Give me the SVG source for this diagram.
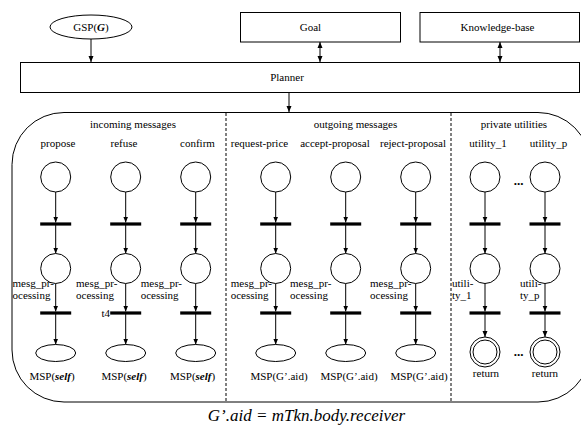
<svg xmlns="http://www.w3.org/2000/svg" width="581" height="425" viewBox="0 0 581 425">
<style>
text{font-family:"Liberation Serif","Times New Roman",serif;font-size:11px;fill:#000}
.c{text-anchor:middle}
.e{text-anchor:end}
.bi{font-weight:bold;font-style:italic}
.dots{font-weight:bold;font-size:13px;text-anchor:middle}
.cap{font-style:italic;font-size:17px;text-anchor:middle}
.box{fill:#fff;stroke:#000;stroke-width:1}
.pl{fill:#fff;stroke:#000;stroke-width:1}
.bar{stroke:#000;stroke-width:3.2}
.ln{stroke:#000;stroke-width:1;fill:none}
.dv{stroke:#000;stroke-width:1;stroke-dasharray:3,2}
</style>
<defs>
<marker id="ah" viewBox="0 0 6 6" refX="6" refY="3" markerWidth="6" markerHeight="6" markerUnits="userSpaceOnUse" orient="auto-start-reverse">
<path d="M0,0.5 L6,3 L0,5.5 z" fill="#000"/>
</marker>
</defs>
<rect width="581" height="425" fill="#fff"/>

<g id="container">
<rect x="12" y="112.5" width="578" height="289.5" rx="52" ry="52" fill="none" stroke="#000" stroke-width="1"/>
<line class="dv" x1="226" y1="113" x2="226" y2="402"/>
<line class="dv" x1="451" y1="113" x2="451" y2="402"/>
<text class="c" x="133" y="128">incoming messages</text>
<text class="c" x="355.5" y="128">outgoing messages</text>
<text class="c" x="514" y="128">private utilities</text>
</g>

<g id="gsp">
<ellipse cx="91" cy="27" rx="41" ry="12" class="box"/>
<text class="c" x="91" y="31">GSP(<tspan class="bi">G</tspan>)</text>
</g>
<g id="goal">
<rect x="240.5" y="12.5" width="160" height="29.5" class="box"/>
<text class="c" x="310.5" y="30.5">Goal</text>
</g>
<g id="kb">
<rect x="420" y="12.5" width="159.5" height="29.5" class="box"/>
<text class="c" x="497.5" y="30.5">Knowledge-base</text>
</g>
<g id="planner">
<rect x="20.5" y="62.5" width="559" height="30" class="box"/>
<text class="c" x="287" y="81">Planner</text>
</g>

<g id="connectors">
<line class="ln" x1="91" y1="39" x2="91" y2="62" marker-end="url(#ah)"/>
<line class="ln" x1="320" y1="42" x2="320" y2="62" marker-start="url(#ah)" marker-end="url(#ah)"/>
<line class="ln" x1="500" y1="42" x2="500" y2="62" marker-start="url(#ah)" marker-end="url(#ah)"/>
<line class="ln" x1="289" y1="92.5" x2="289" y2="112" marker-end="url(#ah)"/>
<line class="ln" x1="55.7" y1="192" x2="55.7" y2="222.5" marker-end="url(#ah)"/>
<line class="ln" x1="55.7" y1="224" x2="55.7" y2="253.5" marker-end="url(#ah)"/>
<line class="ln" x1="55.7" y1="283.5" x2="55.7" y2="311.5" marker-end="url(#ah)"/>
<line class="ln" x1="55.7" y1="313" x2="55.7" y2="344.5" marker-end="url(#ah)"/>
<line class="ln" x1="125.7" y1="192" x2="125.7" y2="222.5" marker-end="url(#ah)"/>
<line class="ln" x1="125.7" y1="224" x2="125.7" y2="253.5" marker-end="url(#ah)"/>
<line class="ln" x1="125.7" y1="283.5" x2="125.7" y2="311.5" marker-end="url(#ah)"/>
<line class="ln" x1="125.7" y1="313" x2="125.7" y2="344.5" marker-end="url(#ah)"/>
<line class="ln" x1="195.7" y1="192" x2="195.7" y2="222.5" marker-end="url(#ah)"/>
<line class="ln" x1="195.7" y1="224" x2="195.7" y2="253.5" marker-end="url(#ah)"/>
<line class="ln" x1="195.7" y1="283.5" x2="195.7" y2="311.5" marker-end="url(#ah)"/>
<line class="ln" x1="195.7" y1="313" x2="195.7" y2="344.5" marker-end="url(#ah)"/>
<line class="ln" x1="275.7" y1="192" x2="275.7" y2="222.5" marker-end="url(#ah)"/>
<line class="ln" x1="275.7" y1="224" x2="275.7" y2="253.5" marker-end="url(#ah)"/>
<line class="ln" x1="275.7" y1="283.5" x2="275.7" y2="311.5" marker-end="url(#ah)"/>
<line class="ln" x1="275.7" y1="313" x2="275.7" y2="344.5" marker-end="url(#ah)"/>
<line class="ln" x1="345.7" y1="192" x2="345.7" y2="222.5" marker-end="url(#ah)"/>
<line class="ln" x1="345.7" y1="224" x2="345.7" y2="253.5" marker-end="url(#ah)"/>
<line class="ln" x1="345.7" y1="283.5" x2="345.7" y2="311.5" marker-end="url(#ah)"/>
<line class="ln" x1="345.7" y1="313" x2="345.7" y2="344.5" marker-end="url(#ah)"/>
<line class="ln" x1="415.7" y1="192" x2="415.7" y2="222.5" marker-end="url(#ah)"/>
<line class="ln" x1="415.7" y1="224" x2="415.7" y2="253.5" marker-end="url(#ah)"/>
<line class="ln" x1="415.7" y1="283.5" x2="415.7" y2="311.5" marker-end="url(#ah)"/>
<line class="ln" x1="415.7" y1="313" x2="415.7" y2="344.5" marker-end="url(#ah)"/>
<line class="ln" x1="485" y1="192" x2="485" y2="222.5" marker-end="url(#ah)"/>
<line class="ln" x1="485" y1="224" x2="485" y2="253.5" marker-end="url(#ah)"/>
<line class="ln" x1="485" y1="283.5" x2="485" y2="311.5" marker-end="url(#ah)"/>
<line class="ln" x1="485" y1="313" x2="485" y2="337" marker-end="url(#ah)"/>
<line class="ln" x1="545" y1="192" x2="545" y2="222.5" marker-end="url(#ah)"/>
<line class="ln" x1="545" y1="224" x2="545" y2="253.5" marker-end="url(#ah)"/>
<line class="ln" x1="545" y1="283.5" x2="545" y2="311.5" marker-end="url(#ah)"/>
<line class="ln" x1="545" y1="313" x2="545" y2="337" marker-end="url(#ah)"/>
</g>

<g id="col-propose">
<text class="c" x="58" y="147">propose</text>
<circle cx="55.7" cy="177" r="15" class="pl"/>
<line class="bar" x1="40.2" y1="224" x2="71.2" y2="224"/>
<circle cx="55.7" cy="268.5" r="15" class="pl"/>
<text x="12.5" y="287">mesg_pr-</text><text x="12.5" y="299">ocessing</text>
<line class="bar" x1="40.2" y1="313" x2="71.2" y2="313"/>
<ellipse cx="55.7" cy="353" rx="20" ry="8.5" class="pl"/>
<text class="c" x="52" y="380">MSP(<tspan class="bi">self</tspan>)</text>
</g>
<g id="col-refuse">
<text class="c" x="124" y="147">refuse</text>
<circle cx="125.7" cy="177" r="15" class="pl"/>
<line class="bar" x1="110.2" y1="224" x2="141.2" y2="224"/>
<circle cx="125.7" cy="268.5" r="15" class="pl"/>
<text x="76" y="287">mesg_pr-</text><text x="76" y="299">ocessing</text>
<line class="bar" x1="110.2" y1="313" x2="141.2" y2="313"/>
<text class="e" x="110" y="317">t4</text>
<ellipse cx="125.7" cy="353" rx="20" ry="8.5" class="pl"/>
<text class="c" x="124" y="380">MSP(<tspan class="bi">self</tspan>)</text>
</g>
<g id="col-confirm">
<text class="c" x="197.5" y="147">confirm</text>
<circle cx="195.7" cy="177" r="15" class="pl"/>
<line class="bar" x1="180.2" y1="224" x2="211.2" y2="224"/>
<circle cx="195.7" cy="268.5" r="15" class="pl"/>
<text x="140.7" y="287">mesg_pr-</text><text x="140.7" y="299">ocessing</text>
<line class="bar" x1="180.2" y1="313" x2="211.2" y2="313"/>
<ellipse cx="195.7" cy="353" rx="20" ry="8.5" class="pl"/>
<text class="c" x="192.5" y="380">MSP(<tspan class="bi">self</tspan>)</text>
</g>
<g id="col-request-price">
<text class="c" x="259.5" y="147">request-price</text>
<circle cx="275.7" cy="177" r="15" class="pl"/>
<line class="bar" x1="260.2" y1="224" x2="291.2" y2="224"/>
<circle cx="275.7" cy="268.5" r="15" class="pl"/>
<text x="230.7" y="287">mesg_pr-</text><text x="230.7" y="299">ocessing</text>
<line class="bar" x1="260.2" y1="313" x2="291.2" y2="313"/>
<ellipse cx="275.7" cy="353" rx="20" ry="8.5" class="pl"/>
<text class="c" x="279" y="380">MSP(G’.aid)</text>
</g>
<g id="col-accept-proposal">
<text class="c" x="335" y="147">accept-proposal</text>
<circle cx="345.7" cy="177" r="15" class="pl"/>
<line class="bar" x1="330.2" y1="224" x2="361.2" y2="224"/>
<circle cx="345.7" cy="268.5" r="15" class="pl"/>
<text x="290" y="287">mesg_pr-</text><text x="290" y="299">ocessing</text>
<line class="bar" x1="330.2" y1="313" x2="361.2" y2="313"/>
<ellipse cx="345.7" cy="353" rx="20" ry="8.5" class="pl"/>
<text class="c" x="349" y="380">MSP(G’.aid)</text>
</g>
<g id="col-reject-proposal">
<text class="c" x="413" y="147">reject-proposal</text>
<circle cx="415.7" cy="177" r="15" class="pl"/>
<line class="bar" x1="400.2" y1="224" x2="431.2" y2="224"/>
<circle cx="415.7" cy="268.5" r="15" class="pl"/>
<text x="370" y="287">mesg_pr-</text><text x="370" y="299">ocessing</text>
<line class="bar" x1="400.2" y1="313" x2="431.2" y2="313"/>
<ellipse cx="415.7" cy="353" rx="20" ry="8.5" class="pl"/>
<text class="c" x="419" y="380">MSP(G’.aid)</text>
</g>
<g id="col-utility-1">
<text class="c" x="488" y="147">utility_1</text>
<circle cx="485" cy="177" r="15" class="pl"/>
<line class="bar" x1="469.5" y1="224" x2="500.5" y2="224"/>
<circle cx="485" cy="268.5" r="15" class="pl"/>
<text x="452" y="287">utili-</text><text x="452" y="299">ty_1</text>
<line class="bar" x1="469.5" y1="313" x2="500.5" y2="313"/>
<circle cx="485" cy="352" r="15" class="pl"/>
<circle cx="485" cy="352" r="12" class="pl"/>
<text class="c" x="486" y="377">return</text>
</g>
<g id="col-utility-p">
<text class="c" x="548.5" y="147">utility_p</text>
<circle cx="545" cy="177" r="15" class="pl"/>
<line class="bar" x1="529.5" y1="224" x2="560.5" y2="224"/>
<circle cx="545" cy="268.5" r="15" class="pl"/>
<text x="520" y="287">utili-</text><text x="520" y="299">ty_p</text>
<line class="bar" x1="529.5" y1="313" x2="560.5" y2="313"/>
<circle cx="545" cy="352" r="15" class="pl"/>
<circle cx="545" cy="352" r="12" class="pl"/>
<text class="c" x="545" y="377">return</text>
</g>
<g id="ellipses">
<text class="dots" x="518.5" y="185">...</text>
<text class="dots" x="518.5" y="356">...</text>
</g>

<text class="cap" x="306.5" y="421">G’.aid = mTkn.body.receiver</text>
</svg>
